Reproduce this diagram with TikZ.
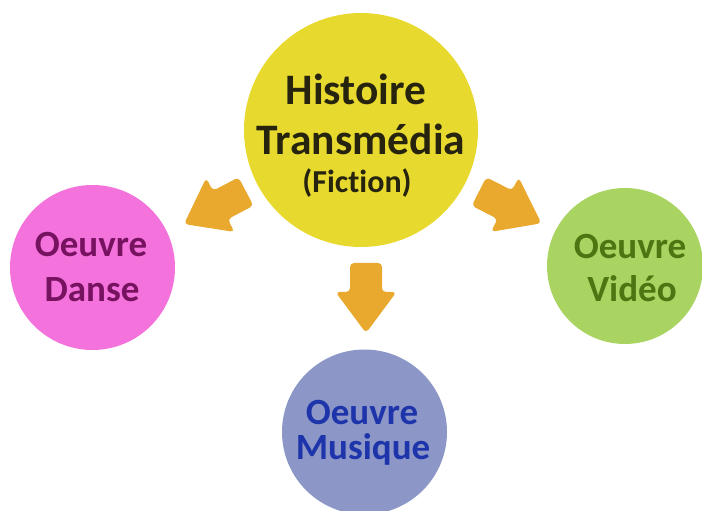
\documentclass[tikz,border=0pt]{standalone}
\usepackage{fontspec}
\setmainfont{Carlito}[Ligatures={NoCommon}]
\definecolor{yel}{RGB}{232,217,46}
\definecolor{yeltxt}{RGB}{38,36,14}
\definecolor{pnk}{RGB}{244,114,220}
\definecolor{pnktxt}{RGB}{118,18,96}
\definecolor{grn}{RGB}{169,212,98}
\definecolor{grntxt}{RGB}{76,118,18}
\definecolor{blu}{RGB}{140,151,200}
\definecolor{blutxt}{RGB}{30,52,170}
\definecolor{arr}{RGB}{232,169,46}
\tikzset{
  bubble/.style={circle, inner sep=0pt, draw=none},
  bigtxt/.style={anchor=base, inner sep=0pt, font=\fontsize{43.5}{50}\selectfont\bfseries},
  midtxt/.style={anchor=base, inner sep=0pt, font=\fontsize{32}{38}\selectfont\bfseries},
  smtxt/.style={anchor=base, inner sep=0pt, font=\fontsize{37}{44}\selectfont\bfseries},
  blockarrow/.pic={\fill[arr, rounded corners=4pt] (0,-16) -- (29,-16) -- (29,-30.5) -- (70,0) -- (29,30.5) -- (29,16) -- (0,16) -- cycle;}
}
\begin{document}
\begin{tikzpicture}[x=1pt,y=1pt]
\useasboundingbox (0,0) rectangle (702,511);
% circles
\node[bubble, fill=yel, minimum size=234pt] (hist) at (361,381) {};
\node[bubble, fill=pnk, minimum size=165pt] (danse) at (92.5,243.5) {};
\node[bubble, fill=grn, minimum size=156pt] (video) at (625,245) {};
\node[bubble, fill=blu, minimum size=165pt] (musique) at (364.5,79) {};
% arrows
\pic[rotate=207.7] at (246,319.5) {blockarrow};
\pic[rotate=-27] at (479,319.5) {blockarrow};
\pic[rotate=-90] at (366,248) {blockarrow};
% texts
\node[bigtxt, text=yeltxt] (h1) at (356,406) {Histoire};
\node[bigtxt, text=yeltxt] (h2) at (361,356) {Transmédia};
\node[midtxt, text=yeltxt] (h3) at (357,318) {(Fic\kern0pt tion)};
\node[smtxt, text=pnktxt] (d1) at (91,254) {Oeuvre};
\node[smtxt, text=pnktxt] (d2) at (92,209) {Danse};
\node[smtxt, text=grntxt] (v1) at (630,252) {Oeuvre};
\node[smtxt, text=grntxt] (v2) at (632,209) {Vidéo};
\node[smtxt, text=blutxt] (m1) at (362,86) {Oeuvre};
\node[smtxt, text=blutxt] (m2) at (363,51) {Musique};
\end{tikzpicture}
\end{document}
